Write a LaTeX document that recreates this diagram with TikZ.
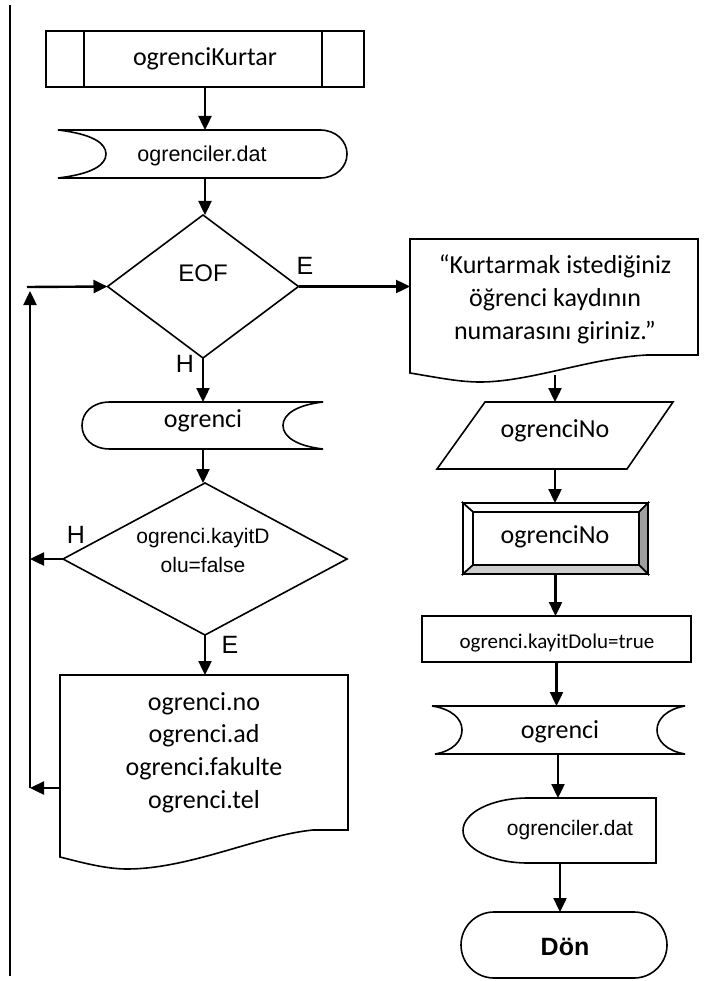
\documentclass[tikz,border=0pt]{standalone}
\usepackage{fontspec}
\setmainfont{Carlito}
\newfontfamily\tahfont{Liberation Sans}
\usetikzlibrary{shapes.geometric,arrows.meta}
\tikzset{
  shp/.style={draw=black, line width=1.6pt},
  arr/.style={draw=black, line width=2.4pt, -{Triangle[length=14pt,width=13pt]}},
  anc/.style={inner sep=0pt, outer sep=0pt},
  cal/.style={inner sep=0pt, anchor=base, font=\fontsize{26}{33}\selectfont},
  calsm/.style={inner sep=0pt, anchor=base, font=\fontsize{21}{26}\selectfont},
  tahtxt/.style={inner sep=0pt, anchor=base, font=\tahfont\fontsize{21.5}{29}\selectfont},
  lbl/.style={inner sep=0pt, anchor=base, font=\tahfont\fontsize{25}{30}\selectfont},
}
\begin{document}
\begin{tikzpicture}[x=1pt,y=-1pt]
\useasboundingbox (0,0) rectangle (707,981);
\fill[white] (0,0) rectangle (707,981);
% divider
\draw[line width=2pt] (10,5) -- (10,976);

% ogrenciKurtar
\node[anc, minimum width=318pt, minimum height=56pt] (kurtar) at (205,59) {};
\draw[shp] (46,31) rectangle (364,87) (84,31) -- (84,87) (322,31) -- (322,87);
\node[cal] (kurtarT) at (205,66) {ogrenciKurtar};

% ogrenciler.dat (top)
\node[anc, minimum width=200pt, minimum height=48pt] (dat1) at (205,154) {};
\draw[shp] (320,130) -- (58,130) .. controls (92,134) and (106,143) .. (106,154) .. controls (106,165) and (92,174) .. (58,178) -- (320,178) .. controls (336,178) and (347,167) .. (347,154) .. controls (347,141) and (336,130) .. (320,130) -- cycle;
\node[tahtxt] (dat1T) at (202,162) {ogrenciler.dat};
\draw[arr] (kurtar.south) -- (kurtar.south |- dat1.north);

% EOF decision
\node[anc, shp, diamond, minimum width=191pt, minimum height=143pt] (eof) at (203,286.5) {};
\node[lbl, font=\tahfont\fontsize{24}{28}\selectfont] (eofT) at (203,282) {EOF};
\node[lbl] (eofE) at (305,275) {E};
\node[lbl] (eofH) at (185,372) {H};
\draw[arr] (dat1.south) -- (dat1.south |- eof.north);

% message document
\node[anc, minimum width=288pt, minimum height=116pt] (doc1) at (554,297) {};
\draw[shp] (410,239) -- (698,239) -- (698,355) -- (647,355) .. controls (590,358) and (530,382) .. (480,382) .. controls (460,382) and (440,378) .. (410,373) -- cycle;
\node[cal] (doc1a) at (555,273) {“Kurtarmak istediğiniz};
\node[cal] (doc1b) at (555,306) {öğrenci kaydının};
\node[cal] (doc1c) at (555,339) {numarasını giriniz.”};
\draw[arr] (eof.east) -- (eof.east -| doc1.west);

% input ogrenciNo
\node[anc, minimum width=190pt, minimum height=67pt] (io) at (555,435.5) {};
\draw[shp] (485,402) -- (673,402) -- (627,469) -- (437,469) -- cycle;
\node[cal] (ioT) at (555,437) {ogrenciNo};
\coordinate (doc1out) at (555,375);
\draw[arr] (doc1out) -- (io.north);

% bevel process
\node[anc, minimum width=185pt, minimum height=71pt] (proc) at (555.5,538.5) {};
\filldraw[shp, fill=white] (463,503) -- (648,503) -- (639,512) -- (473,512) -- cycle;
\filldraw[shp, fill=white] (463,503) -- (473,512) -- (473,565) -- (463,574) -- cycle;
\filldraw[shp, fill=gray!75] (648,503) -- (648,574) -- (639,565) -- (639,512) -- cycle;
\filldraw[shp, fill=gray!40] (463,574) -- (648,574) -- (639,565) -- (473,565) -- cycle;
\node[cal] (procT) at (555,543) {ogrenciNo};
\draw[arr] (io.south) -- (io.south |- proc.north);

% assignment
\node[anc, shp, rectangle, minimum width=269pt, minimum height=46pt] (set) at (556.5,639) {};
\node[calsm] (setT) at (557,648) {ogrenci.kayitDolu=true};
\draw[arr] (proc.south) -- (proc.south |- set.north);

% ogrenci (right)
\node[anc, minimum width=200pt, minimum height=48pt] (dat3) at (558,730) {};
\draw[shp] (432,706) -- (685,706) .. controls (667,709) and (657,719) .. (657,730) .. controls (657,741) and (667,751) .. (685,754) -- (435,754) .. controls (453,751) and (462,741) .. (462,730) .. controls (462,719) and (452,709) .. (432,706);
\node[cal] (dat3T) at (560,738) {ogrenci};
\draw[arr] (set.south) -- (set.south |- dat3.north);

% ogrenciler.dat (bottom)
\node[anc, minimum width=193pt, minimum height=65pt] (dat4) at (560,830.5) {};
\draw[shp] (656,798) -- (528,798) .. controls (492,798) and (463,812.5) .. (463,830.5) .. controls (463,848.5) and (492,863) .. (528,863) -- (656,863) -- cycle;
\node[tahtxt, font=\tahfont\fontsize{21}{26}\selectfont] (dat4T) at (570,835) {ogrenciler.dat};
\draw[arr] (dat3.south) -- (dat3.south |- dat4.north);

% Don terminal
\node[anc, shp, rectangle, rounded corners=33pt, minimum width=206pt, minimum height=66pt] (don) at (564,945) {};
\node[lbl, font=\tahfont\bfseries\fontsize{25}{30}\selectfont] (donT) at (565,955) {Dön};
\draw[arr] (dat4.south) -- (dat4.south |- don.north);

% ogrenci (left)
\node[anc, minimum width=200pt, minimum height=47pt] (dat2) at (203,425.5) {};
\draw[shp] (110,402) -- (323,402) .. controls (297,405) and (283,414) .. (283,425.5) .. controls (283,437) and (297,446) .. (323,449) -- (110,449) .. controls (92,449) and (82,438) .. (82,425.5) .. controls (82,413) and (92,402) .. (110,402) -- cycle;
\node[cal] (dat2T) at (203,427) {ogrenci};
\draw[arr] (eof.south) -- (eof.south |- dat2.north);

% kayitDolu decision
\node[anc, shp, diamond, minimum width=284pt, minimum height=152pt] (kayit) at (205,559) {};
\node[tahtxt, font=\tahfont\fontsize{21}{26}\selectfont] (kayitA) at (203,543) {ogrenci.kayitD};
\node[tahtxt, font=\tahfont\fontsize{21}{26}\selectfont] (kayitB) at (203,572) {olu=false};
\node[lbl] (kayitH) at (76,543) {H};
\node[lbl] (kayitE) at (230,653) {E};
\draw[arr] (dat2.south) -- (dat2.south |- kayit.north);

% output document
\node[anc, minimum width=288pt, minimum height=155pt] (doc2) at (204,752.5) {};
\draw[shp] (60,675) -- (348,675) -- (348,830) -- (313,830) .. controls (260,835) and (190,869) .. (127,869) .. controls (105,869) and (80,862) .. (60,857) -- cycle;
\node[cal] (doc2a) at (204,710) {ogrenci.no};
\node[cal] (doc2b) at (204,742) {ogrenci.ad};
\node[cal] (doc2c) at (204,775) {ogrenci.fakulte};
\node[cal] (doc2d) at (204,808) {ogrenci.tel};
\draw[arr] (kayit.south) -- (kayit.south |- doc2.north);

% loop back
\coordinate (loopB) at (30,788);
\coordinate (loopT) at (30,291);
\coordinate (loopH) at (27,287);
\coordinate (loopM) at (30,559);
\draw[arr] ([yshift=-35.5pt]doc2.west) -- (loopB);
\draw[arr] (loopB) -- (loopT);
\draw[arr] (kayit.west) -- (kayit.west -| loopM);
\draw[arr] (loopH) -- (eof.west);
\end{tikzpicture}
\end{document}
